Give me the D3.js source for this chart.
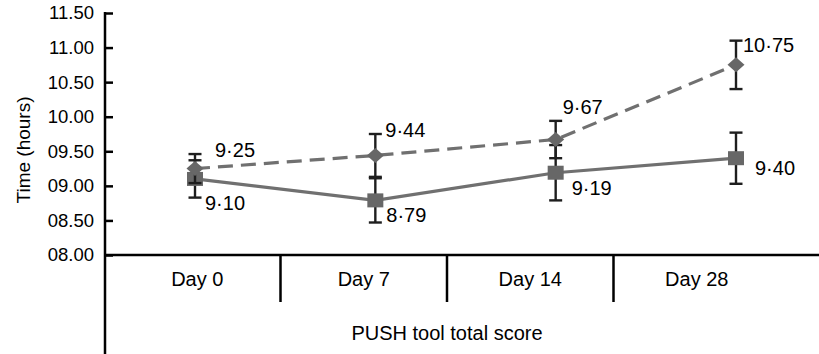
<!DOCTYPE html>
<html>
<head>
<meta charset="utf-8">
<script src="https://cdn.jsdelivr.net/npm/d3@7/dist/d3.min.js"></script>
<style>
  html, body { margin: 0; padding: 0; background: #fff; }
  svg { display: block; font-family: "Liberation Sans", Arial, sans-serif; }
</style>
</head>
<body>
<svg id="chart" width="819" height="354"></svg>
<script>
// Time points and group means (hours)
const days = ["Day 0", "Day 7", "Day 14", "Day 28"];
const solidMeans = [9.10, 8.79, 9.19, 9.40];
const solidErr = [0.27, 0.32, 0.40, 0.37];
const dashedMeans = [9.25, 9.44, 9.67, 10.75];
const dashedErr = [0.21, 0.31, 0.27, 0.35];
const yTicks = [8.0, 8.5, 9.0, 9.5, 10.0, 10.5, 11.0, 11.5];
const xTitle = "PUSH tool total score";
const yTitle = "Time (hours)";

// Label placement offsets (px) next to each point
const dashedLabelOffset = [[20, -12], [10, -18], [7, -26], [7, -13]];
const solidLabelOffset = [[10, 31], [11, 22], [16, 22], [19, 17]];

const svg = d3.select("#chart");
const axisX = 105, baseY = 255, topY = 13;

const y = d3.scaleLinear().domain([8, 11.5]).range([baseY, topY]);
const x = d3.scalePoint().domain(days).range([195, 736]);
const band = d3.scaleBand().domain(days).range([114, 780]);

const lineGrey = "#707070";
const markGrey = "#676767";
const barCol = "#1e1e1e";

// Marker shapes: a slightly flattened square and a wide diamond
const boxMarker = { draw(ctx) { ctx.moveTo(-8, -7); ctx.lineTo(8, -7); ctx.lineTo(8, 7); ctx.lineTo(-8, 7); ctx.closePath(); } };
const diamondMarker = { draw(ctx) { ctx.moveTo(-8.5, 0); ctx.lineTo(0, -7.5); ctx.lineTo(8.5, 0); ctx.lineTo(0, 7.5); ctx.closePath(); } };

// Y axis with inward ticks
const yAxis = d3.axisLeft(y)
  .tickValues(yTicks)
  .tickSizeInner(-8)
  .tickSizeOuter(0)
  .tickPadding(11)
  .tickFormat(d3.format("05.2f"));
const gy = svg.append("g").attr("transform", `translate(${axisX},0)`).call(yAxis);
gy.select(".domain").remove();
gy.selectAll(".tick line").attr("stroke", "#000").attr("stroke-width", 2.5);
gy.selectAll(".tick text").attr("font-size", 18.5).attr("fill", "#000")
  .attr("font-family", "Liberation Sans, Arial, sans-serif");

// Axis lines
svg.append("line").attr("x1", axisX).attr("x2", axisX).attr("y1", topY - 1).attr("y2", 354)
  .attr("stroke", "#000").attr("stroke-width", 2.5);
svg.append("line").attr("x1", axisX).attr("x2", 819).attr("y1", baseY).attr("y2", baseY)
  .attr("stroke", "#000").attr("stroke-width", 2.5);

// Category table below the axis
svg.append("g").selectAll("line").data(days.slice(1)).join("line")
  .attr("x1", d => band(d)).attr("x2", d => band(d))
  .attr("y1", baseY).attr("y2", baseY + 47)
  .attr("stroke", "#000").attr("stroke-width", 2.5);
svg.append("g").selectAll("text").data(days).join("text")
  .attr("x", d => band(d) + band.bandwidth() / 2)
  .attr("y", baseY + 31)
  .attr("text-anchor", "middle").attr("font-size", 20).attr("fill", "#000")
  .text(d => d);

svg.append("text").attr("x", 447).attr("y", 340).attr("text-anchor", "middle")
  .attr("font-size", 20).attr("fill", "#000").text(xTitle);
svg.append("text").attr("transform", `translate(30,${(topY + baseY) / 2 + 16}) rotate(-90)`)
  .attr("text-anchor", "middle").attr("font-size", 19).attr("fill", "#000").text(yTitle);

const fmt = v => d3.format(".2f")(v).replace(".", "\u00b7");

function drawSeries(means, errs, dashed, marker, offsets) {
  const pts = means.map((m, i) => ({ day: days[i], m, e: errs[i], off: offsets[i] }));
  const g = svg.append("g");
  g.append("path").datum(pts)
    .attr("d", d3.line().x(d => x(d.day)).y(d => y(d.m)))
    .attr("fill", "none").attr("stroke", lineGrey).attr("stroke-width", 3.2)
    .attr("stroke-dasharray", dashed ? "15,8" : null);
  const eb = g.append("g").selectAll("g").data(pts).join("g").attr("stroke", barCol).attr("stroke-width", 2.4);
  eb.append("line").attr("x1", d => x(d.day)).attr("x2", d => x(d.day))
    .attr("y1", d => y(d.m - d.e)).attr("y2", d => y(d.m + d.e));
  eb.append("line").attr("x1", d => x(d.day) - 6.5).attr("x2", d => x(d.day) + 6.5)
    .attr("y1", d => y(d.m + d.e)).attr("y2", d => y(d.m + d.e));
  eb.append("line").attr("x1", d => x(d.day) - 6.5).attr("x2", d => x(d.day) + 6.5)
    .attr("y1", d => y(d.m - d.e)).attr("y2", d => y(d.m - d.e));
  g.append("g").selectAll("path").data(pts).join("path")
    .attr("transform", d => `translate(${x(d.day)},${y(d.m)})`)
    .attr("d", d3.symbol().type(marker))
    .attr("fill", markGrey);
  g.append("g").selectAll("text").data(pts).join("text")
    .attr("x", d => x(d.day) + d.off[0]).attr("y", d => y(d.m) + d.off[1])
    .attr("font-size", 20).attr("fill", "#000").text(d => fmt(d.m));
}

drawSeries(solidMeans, solidErr, false, boxMarker, solidLabelOffset);
drawSeries(dashedMeans, dashedErr, true, diamondMarker, dashedLabelOffset);
</script>
</body>
</html>
